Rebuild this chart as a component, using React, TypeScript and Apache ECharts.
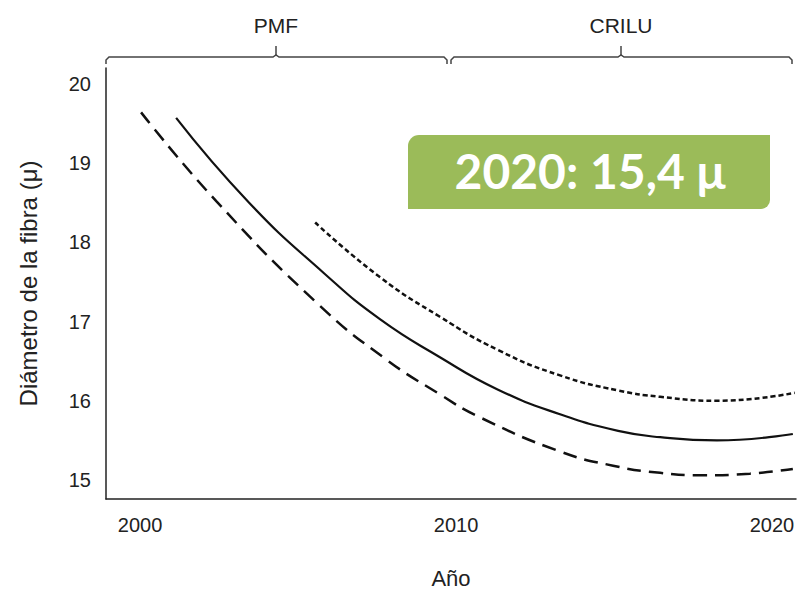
import React, { useEffect, useRef } from "react";
import * as echarts from "echarts";

// Year and fibre diameter (µ)
const solidYears = [2001.14, 2003.45, 2005.82, 2007.59, 2009.49, 2011.33, 2013.29, 2015.13, 2016.46, 2018.26, 2020.66];
const solidValues = [19.57, 18.5, 17.61, 17.03, 16.55, 16.14, 15.83, 15.62, 15.54, 15.5, 15.58];

const dashedYears = [2000.03, 2002.41, 2005.66, 2007.69, 2009.49, 2010.76, 2013.29, 2014.97, 2016.46, 2017.82, 2019.3, 2020.66];
const dashedValues = [19.64, 18.52, 17.21, 16.55, 16.08, 15.79, 15.36, 15.18, 15.09, 15.06, 15.08, 15.14];

const dottedYears = [2005.54, 2007.59, 2009.49, 2011.33, 2013.29, 2015.13, 2016.46, 2018.26, 2020.72];
const dottedValues = [18.25, 17.56, 17.06, 16.64, 16.32, 16.13, 16.05, 16.0, 16.1];

const yTicks = [15, 16, 17, 18, 19, 20];
const xTicks = [2000, 2010, 2020];
const periods = ["PMF", "CRILU"];
const badgeText = "2020: 15,4 μ";

const zip = (xs: number[], ys: number[]) => xs.map((x, i) => [x, ys[i]]);

export default function App() {
  const ref = useRef<HTMLDivElement>(null);
  useEffect(() => {
    if (!ref.current) return;
    const chart = echarts.init(ref.current, null, { renderer: "svg" });
    const textFont = "'Liberation Sans', Arial, sans-serif";
    const lineCol = "#222";
    chart.setOption({
      animation: false,
      backgroundColor: "#fff",
      grid: { left: 106, right: 2, top: 68, bottom: 93, containLabel: false },
      xAxis: {
        type: "value",
        min: 1998.92,
        max: 2020.76,
        name: "Año",
        nameLocation: "middle",
        nameGap: 68,
        nameTextStyle: { fontSize: 22, color: "#222", fontFamily: textFont },
        axisLine: { show: true, lineStyle: { color: lineCol, width: 1.5 } },
        axisTick: { show: false },
        splitLine: { show: false },
        axisLabel: {
          customValues: xTicks,
          formatter: (v: number) => String(v),
          fontSize: 20,
          color: "#222",
          fontFamily: textFont,
          margin: 16,
        },
      },
      yAxis: {
        type: "value",
        min: 14.76,
        max: 20.2,
        name: "Diámetro de la fibra (μ)",
        nameLocation: "middle",
        nameGap: 66,
        nameRotate: 90,
        nameTextStyle: { fontSize: 24, color: "#222", fontFamily: textFont },
        axisLine: { show: true, lineStyle: { color: lineCol, width: 1.5 } },
        axisTick: { show: false },
        splitLine: { show: false },
        axisLabel: {
          customValues: yTicks,
          formatter: (v: number) => String(v),
          fontSize: 20,
          color: "#222",
          fontFamily: textFont,
          margin: 15,
        },
      },
      series: [
        {
          type: "line",
          data: zip(dashedYears, dashedValues),
          smooth: 0.5,
          showSymbol: false,
          lineStyle: { color: "#111", width: 2.5, type: [14, 8] },
        },
        {
          type: "line",
          data: zip(solidYears, solidValues),
          smooth: 0.5,
          showSymbol: false,
          lineStyle: { color: "#111", width: 2.2, type: "solid" },
        },
        {
          type: "line",
          data: zip(dottedYears, dottedValues),
          smooth: 0.5,
          showSymbol: false,
          lineStyle: { color: "#111", width: 2.5, type: [5, 3] },
        },
      ],
      graphic: [
        // PMF bracket
        {
          type: "polyline",
          shape: { points: [[106, 64], [106, 60], [109, 57], [273, 57], [276, 55], [279, 57], [444, 57], [447, 60], [447, 64]] },
          style: { stroke: "#444", lineWidth: 1.5, fill: null },
        },
        { type: "line", shape: { x1: 276, y1: 46, x2: 276, y2: 56 }, style: { stroke: "#444", lineWidth: 1.5 } },
        {
          type: "text",
          x: 276,
          y: 25,
          style: { text: periods[0], fontSize: 21, fill: "#222", fontFamily: textFont, align: "center", verticalAlign: "middle" },
        },
        // CRILU bracket
        {
          type: "polyline",
          shape: { points: [[451, 64], [451, 60], [454, 57], [618, 57], [621, 55], [624, 57], [789, 57], [792, 60], [792, 64]] },
          style: { stroke: "#444", lineWidth: 1.5, fill: null },
        },
        { type: "line", shape: { x1: 621, y1: 46, x2: 621, y2: 56 }, style: { stroke: "#444", lineWidth: 1.5 } },
        {
          type: "text",
          x: 621,
          y: 25,
          style: { text: periods[1], fontSize: 21, fill: "#222", fontFamily: textFont, align: "center", verticalAlign: "middle" },
        },
        // green badge
        {
          type: "rect",
          shape: { x: 408, y: 135, width: 362, height: 74, r: [11, 0, 9, 0] },
          style: { fill: "#9BBB59" },
        },
        {
          type: "text",
          x: 590,
          y: 170,
          style: {
            text: badgeText,
            fontSize: 48,
            fontWeight: "bold",
            fill: "#fff",
            fontFamily: "Lato, 'Open Sans', sans-serif",
            align: "center",
            verticalAlign: "middle",
          },
        },
      ],
    });
    return () => chart.dispose();
  }, []);
  return <div ref={ref} style={{ width: 798, height: 594, position: "absolute", left: 0, top: 0 }} />;
}
